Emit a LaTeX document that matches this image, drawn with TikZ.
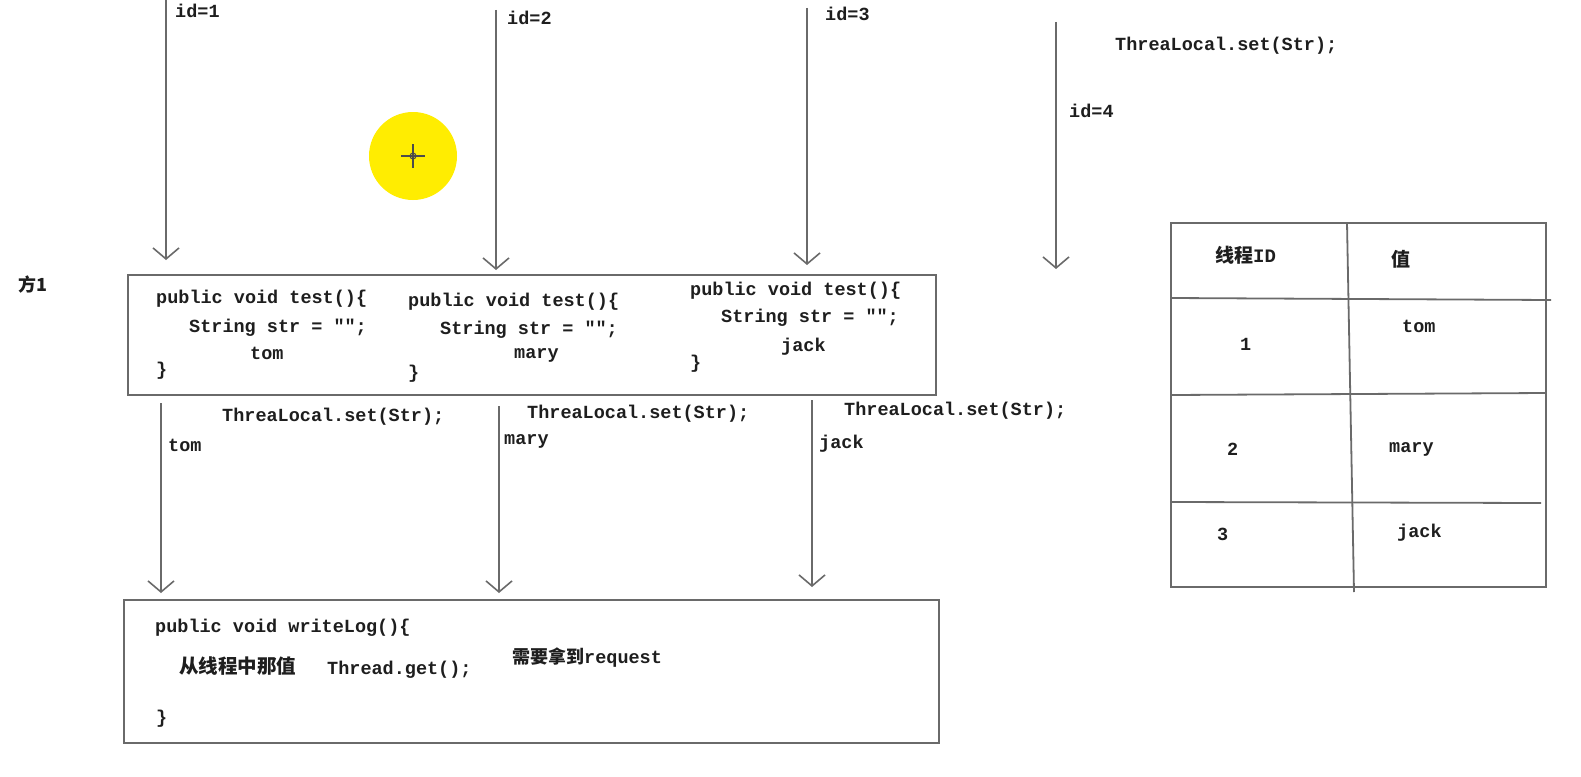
\documentclass[tikz,border=0pt]{standalone}
\usepackage{fontspec}
\setmonofont{Liberation Mono}
\newfontfamily\cjk{Noto Sans CJK SC}
\usetikzlibrary{arrows.meta}
\definecolor{linegray}{HTML}{6A6A6A}
\definecolor{txt}{HTML}{1E1E1E}
\tikzset{
  code/.style={anchor=west,inner sep=0pt,text=txt,font=\ttfamily\bfseries\fontsize{18.5}{20}\selectfont},
  cjktext/.style={anchor=west,inner sep=0pt,text=txt,font=\cjk\bfseries\fontsize{19.5}{22}\selectfont},
  flow/.style={draw=linegray,line width=1.8pt,-{Straight Barb[length=11pt,width=26pt,line width=1.6pt]}},
  box/.style={draw=linegray,line width=2.2pt},
  grid/.style={draw=linegray,line width=1.8pt},
}
\begin{document}
\begin{tikzpicture}[x=1pt,y=-1pt]
\useasboundingbox[fill=white] (0,0) rectangle (1581,776);

% yellow cursor highlight
\fill[yellow!95!orange] (413,156) circle (44);
\draw[black!70,line width=1.5pt] (401,156) -- (425,156) (413,144) -- (413,168);
\draw[black!70,line width=1pt] (413,156) circle (3);

% top arrows
\coordinate (s1) at (166,0);   \coordinate (e1) at (166,260);
\coordinate (s2) at (496,10);  \coordinate (e2) at (496,270);
\coordinate (s3) at (807,8);   \coordinate (e3) at (807,265);
\coordinate (s4) at (1056,22); \coordinate (e4) at (1056,269);
\draw[flow] (s1) -- (e1);
\draw[flow] (s2) -- (e2);
\draw[flow] (s3) -- (e3);
\draw[flow] (s4) -- (e4);
\node[code] (id1) at (175,11) {id=1};
\node[code] (id2) at (507,18) {id=2};
\node[code] (id3) at (825,14) {id=3};
\node[code] (id4) at (1069,111) {id=4};
\node[code] (set4) at (1115,46) {ThreaLocal.set(Str);};

% label
\node[anchor=west,inner sep=0pt,text=txt,font=\cjk\bfseries\fontsize{18}{20}\selectfont] (fang) at (18,285) {方1};

% box 1
\draw[box] (128,275) rectangle (936,395);
\node[code] (c1a) at (156,299) {public void test()\{};
\node[code] (c1b) at (189,328) {String str = "";};
\node[code] (c1c) at (250,353) {tom};
\node[code] (c1d) at (156,371) {\}};
\node[code] (c2a) at (408,302) {public void test()\{};
\node[code] (c2b) at (440,330) {String str = "";};
\node[code] (c2c) at (514,355) {mary};
\node[code] (c2d) at (408,374) {\}};
\node[code] (c3a) at (690,291) {public void test()\{};
\node[code] (c3b) at (721,318) {String str = "";};
\node[code] (c3c) at (781,347) {jack};
\node[code] (c3d) at (690,364) {\}};

% lower arrows
\coordinate (t1) at (161,403); \coordinate (u1) at (161,593);
\coordinate (t2) at (499,406); \coordinate (u2) at (499,593);
\coordinate (t3) at (812,400); \coordinate (u3) at (812,587);
\draw[flow] (t1) -- (u1);
\draw[flow] (t2) -- (u2);
\draw[flow] (t3) -- (u3);
\node[code] (set1) at (222,417) {ThreaLocal.set(Str);};
\node[code] (v1) at (168,445) {tom};
\node[code] (set2) at (527,414) {ThreaLocal.set(Str);};
\node[code] (v2) at (504,441) {mary};
\node[code] (set3) at (844,411) {ThreaLocal.set(Str);};
\node[code] (v3) at (819,444) {jack};

% box 2
\draw[box] (124,600) rectangle (939,743);
\node[code] (w1) at (155,628) {public void writeLog()\{};
\node[cjktext] (w2) at (179,666) {从线程中那值};
\node[code] (w3) at (327,670) {Thread.get();};
\node[anchor=west,inner sep=0pt,text=txt] (w4) at (512,658) {{\cjk\bfseries\fontsize{18}{20}\selectfont 需要拿到}{\ttfamily\bfseries\fontsize{18.5}{20}\selectfont request}};
\node[code] (w5) at (156,719) {\}};

% table
\draw[grid] (1171,223) rectangle (1546,587);
\draw[grid] (1347,223) -- (1354,592);
\draw[grid] (1171,298) -- (1551,300);
\draw[grid] (1171,395) -- (1546,393);
\draw[grid] (1171,502) -- (1541,503);
\node[cjktext,font=\cjk\bfseries\fontsize{19}{22}\selectfont] (h1) at (1215,255) {线程\ttfamily ID};
\node[cjktext,font=\cjk\bfseries\fontsize{19}{22}\selectfont] (h2) at (1391,259) {值};
\node[code] (r1a) at (1240,344) {1};
\node[code] (r1b) at (1402,326) {tom};
\node[code] (r2a) at (1227,449) {2};
\node[code] (r2b) at (1389,449) {mary};
\node[code] (r3a) at (1217,534) {3};
\node[code] (r3b) at (1397,533) {jack};
\end{tikzpicture}
\end{document}
